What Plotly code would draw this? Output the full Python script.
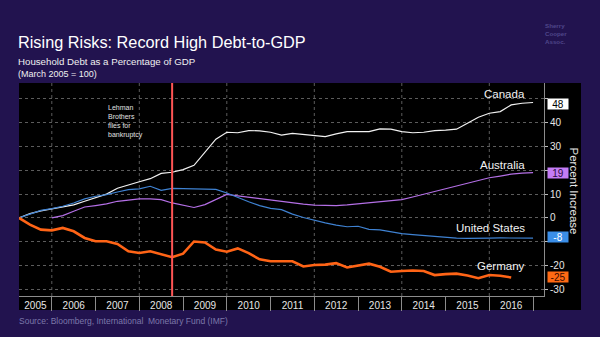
import pandas as pd
import plotly.graph_objects as go

# ---------------- data ----------------
quarters = pd.period_range("2005Q1", "2016Q4", freq="Q")
canada = [0, 1.8, 3.0, 3.8, 4.5, 5.5, 7.0, 8.5, 10.0, 12.5, 14.0, 15.2,
          16.5, 18.7, 19.2, 20.3, 22.1, 27.7, 33.1, 36.0, 35.8, 36.7, 36.6, 36.0,
          34.8, 35.5, 35.1, 34.9, 34.2, 35.3, 36.3, 36.3, 36.3, 37.4, 37.3, 36.3,
          35.8, 36.0, 36.7, 36.9, 37.3, 39.8, 42.3, 44.0, 44.7, 47.5, 48.2, 48.5]
australia = [None, None, None, 0, 1.0, 2.8, 4.6, 5.2, 5.9, 7.0, 7.4, 8.0,
             8.0, 7.7, 6.3, 5.2, 4.4, 5.6, 7.8, 9.9, 9.3, 8.7, 8.0, 7.4,
             6.9, 6.3, 5.8, 5.4, 5.3, 5.2, 5.5, 5.9, 6.3, 6.8, 7.1, 7.7,
             8.8, 10.0, 11.0, 12.4, 13.6, 14.8, 15.9, 16.9, 17.6, 18.4, 18.8, 19.0]
united_states = [0, 1.7, 3.2, 3.9, 4.9, 6.3, 8.0, 9.1, 9.8, 10.9, 11.9, 12.2,
                 13.3, 11.6, 12.4, 12.3, 12.3, 12.3, 12.0, 10.5, 8.6, 6.8, 5.2, 4.0,
                 3.5, 1.6, 0.2, -1.0, -2.1, -3.0, -3.7, -3.5, -4.8, -5.0, -5.8, -6.6,
                 -7.0, -7.4, -7.8, -8.2, -8.5, -8.6, -8.7, -8.5, -8.4, -8.4, -8.5, -8.5]
germany = [0, -2.8, -4.9, -5.2, -4.2, -5.6, -8.4, -9.8, -9.8, -10.9, -14.0, -14.7,
           -14.0, -15.4, -16.5, -15.0, -9.9, -10.3, -13.3, -14.2, -12.8, -14.8, -17.4, -18.2,
           -18.2, -18.2, -20.4, -19.8, -19.6, -19.0, -20.8, -20.0, -19.2, -20.5, -22.6, -22.3,
           -22.1, -22.3, -24.0, -23.6, -23.4, -24.2, -25.3, -24.0, -24.3, -25.0, None, None]

series_names = ["Canada", "Australia", "United States", "Germany"]
series_values = [canada, australia, united_states, germany]
series_colors = ["#f2f2f2", "#b46fe6", "#3f82d2", "#ff6416"]
series_widths = [1.2, 1.2, 1.2, 2.6]
end_labels = [48, 19, -8, -25]
end_box_colors = ["#ffffff", "#c47cf5", "#3a8ee8", "#ff6a14"]
end_text_colors = ["#000000", "#2a0a40", "#ffffff", "#3a0a00"]
name_label_y = [52, 22.4, -4.4, -20.3]

years = list(range(2005, 2017))
year_labels = [str(y) for y in years]
y_ticks = [-30, -20, -10, 0, 10, 20, 30, 40, 50]
# ticks at 50, 20 and -10 sit behind the end-value tags
y_tick_text = ["-30", "-20", "", "0", "10", "", "30", "40", ""]
lehman_x = 2008.75

# decimal year at quarter end
x = [p.year + p.quarter / 4 for p in quarters]

W, H = 600, 337
ML, MR, MT, MB = 19, 56, 83, 41
PW, PH = W - ML - MR, H - MT - MB


def pxx(v):
    return (v - ML) / PW


def pxy(v):
    return (H - MB - v) / PH


fig = go.Figure()
for name, vals, col, wd in zip(series_names, series_values, series_colors, series_widths):
    fig.add_trace(go.Scatter(x=x, y=vals, mode="lines", name=name,
                             line=dict(color=col, width=wd), connectgaps=False,
                             hoverinfo="skip"))

x0, x1 = 2005.25, 2017.25
tickvals = [max(y, x0) + (y + 1 - max(y, x0)) / 2 for y in years]

shapes = [dict(type="rect", xref="paper", yref="paper", x0=0, x1=pxx(581),
               y0=pxy(310), y1=1, fillcolor="#000000", line=dict(width=0), layer="below")]
for yr in range(2006, 2017, 2):
    shapes.append(dict(type="line", xref="x", yref="paper", x0=yr, x1=yr, y0=0, y1=1,
                       line=dict(color="#5c5c5c", width=1, dash="dot"), layer="below"))
shapes.append(dict(type="line", xref="x", yref="paper", x0=lehman_x, x1=lehman_x, y0=0, y1=1,
                   line=dict(color="#ff5555", width=2), layer="above"))

ann = []
txt = "#f0f0f0"
ann.append(dict(text="Rising Risks: Record High Debt-to-GDP", x=pxx(16), y=pxy(42),
                xanchor="left", yanchor="middle", font=dict(size=16.3, color="#ffffff")))
ann.append(dict(text="Household Debt as a Percentage of GDP", x=pxx(16), y=pxy(62),
                xanchor="left", yanchor="middle", font=dict(size=9.7, color=txt)))
ann.append(dict(text="(March 2005 = 100)", x=pxx(16), y=pxy(74),
                xanchor="left", yanchor="middle", font=dict(size=9, color=txt)))
ann.append(dict(text="<b>Sherry<br>Cooper<br>Assoc.</b>", x=pxx(543), y=pxy(20),
                xanchor="left", yanchor="top", align="left",
                font=dict(size=6.2, color="#4f468a")))
ann.append(dict(text="Source: Bloomberg, International  Monetary Fund (IMF)", x=pxx(17),
                y=pxy(321), xanchor="left", yanchor="middle",
                font=dict(size=8.5, color="#7c78aa")))
ann.append(dict(text="Lehman<br>Brothers<br>files for<br>bankruptcy", x=pxx(106), y=pxy(102),
                xanchor="left", yanchor="top", align="left",
                font=dict(size=7, color="#e0e0e0")))
ann.append(dict(text="Percent Increase", x=pxx(574), y=pxy(190.5), textangle=90,
                xanchor="center", yanchor="middle", font=dict(size=11.5, color="#e6e6e6")))
for name, ly in zip(series_names, name_label_y):
    ann.append(dict(text=name, x=pxx(527), xref="paper", y=ly, yref="y",
                    xanchor="right", yanchor="middle", font=dict(size=11.5, color="#f2f2f2")))
for v, bg, fc in zip(end_labels, end_box_colors, end_text_colors):
    ann.append(dict(text=str(v), x=pxx(547), xref="paper", y=v, yref="y",
                    xanchor="left", yanchor="middle", bgcolor=bg, borderpad=0,
                    width=20, height=10, align="center",
                    font=dict(size=10, color=fc)))
for a in ann:
    a.setdefault("xref", "paper")
    a.setdefault("yref", "paper")
    a["showarrow"] = False

fig.update_layout(
    width=W, height=H, autosize=False,
    margin=dict(l=ML, r=MR, t=MT, b=MB, pad=0),
    paper_bgcolor="#22134f", plot_bgcolor="#000000",
    showlegend=False,
    font=dict(family="Liberation Sans, Arial, sans-serif", color=txt),
    shapes=shapes, annotations=ann,
    xaxis=dict(range=[x0, x1], tickmode="array", tickvals=tickvals, ticktext=year_labels,
               ticks="", showgrid=False, zeroline=False, showline=True,
               linecolor="#8c8c8c", linewidth=1, tickfont=dict(size=10, color="#e6e6e6"),
               minor=dict(tickmode="array", tickvals=list(range(2006, 2018)), ticks="outside",
                          ticklen=14, tickcolor="#8c8c8c", tickwidth=1, showgrid=False)),
    yaxis=dict(range=[-32.8, 56.7], side="right", tickmode="array", tickvals=y_ticks,
               ticktext=y_tick_text, ticks="outside", ticklen=3, tickcolor="#bbbbbb",
               showgrid=True, gridcolor="#5c5c5c", griddash="dot", gridwidth=1,
               zeroline=False, showline=True, linecolor="#8c8c8c", linewidth=1,
               tickfont=dict(size=10, color="#e6e6e6")),
)

fig.write_html("out.html")
